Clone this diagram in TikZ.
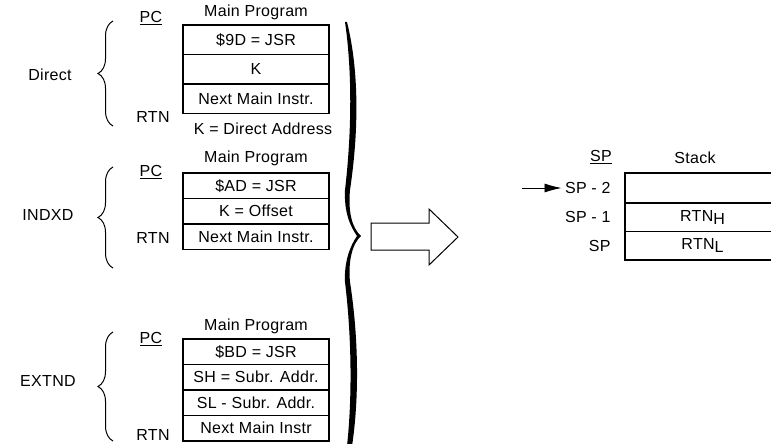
\documentclass[tikz,border=0pt]{standalone}
\usepackage{fontspec}
\setmainfont{Liberation Sans}
\setsansfont[LetterSpace=2]{Liberation Sans}
\usetikzlibrary{positioning,arrows.meta,decorations.pathreplacing}

\begin{document}
\begin{tikzpicture}[x=1pt,y=-1pt,font=\sffamily\fontsize{16}{18}\selectfont,
  cell/.style={draw,line width=1.2pt,minimum width=146pt,inner sep=0pt,outer sep=0pt},
  lbrace/.style={decorate,decoration={brace,amplitude=15pt},line width=1pt},
  srow/.style={minimum width=155pt,inner sep=0pt,outer sep=0pt}]
\useasboundingbox (0,0) rectangle (771,444);

% Direct
\node (d-head) at (256,12) {Main Program};
\foreach \X [count=\Y,remember=\Y as \LastY] in {\$9D = JSR,K,Next Main Instr.}
  {\ifnum\Y=1
  \node[cell,minimum height=29.5pt,anchor=north] (d-\Y) at (256,25) {\X};
  \else
  \node[cell,minimum height=29.5pt,below=0pt of d-\LastY] (d-\Y) {\X};
  \fi}
\node (d-pc) at (151,18) {\underline{PC}};
\node (d-rtn) at (153,117) {RTN};
\node (d-note) at (263,129) {K = Direct Address};
\node (d-mode) at (50,75) {Direct};
\draw[lbrace] (113,126) -- (113,21);

% INDXD
\node (i-head) at (256,158) {Main Program};
\foreach \X [count=\Y,remember=\Y as \LastY] in {\$AD = JSR,K = Offset,Next Main Instr.}
  {\ifnum\Y=1
  \node[cell,minimum height=25.5pt,anchor=north] (i-\Y) at (256,173) {\X};
  \else
  \node[cell,minimum height=25.5pt,below=0pt of i-\LastY] (i-\Y) {\X};
  \fi}
\node (i-pc) at (151,172) {\underline{PC}};
\node (i-rtn) at (153,238) {RTN};
\node (i-mode) at (48,215) {INDXD};
\draw[lbrace] (113,268) -- (113,167);

% EXTND
\node (e-head) at (256,326) {Main Program};
\foreach \X [count=\Y,remember=\Y as \LastY] in {\$BD = JSR,SH = Subr. Addr.,SL - Subr. Addr.,Next Main Instr}
  {\ifnum\Y=1
  \node[cell,minimum height=25.5pt,anchor=north] (e-\Y) at (256,339) {\X};
  \else
  \node[cell,minimum height=25.5pt,below=0pt of e-\LastY] (e-\Y) {\X};
  \fi}
\node (e-pc) at (151,339) {\underline{PC}};
\node (e-rtn) at (153,435) {RTN};
\node (e-mode) at (48,381) {EXTND};
\draw[lbrace] (113,441) -- (113,332);

% big brace
\fill (347,22) .. controls (359,70) and (359,130) .. (350,190)
  .. controls (348,212) and (352,228) .. (361,236)
  .. controls (352,244) and (348,262) .. (350,282)
  .. controls (359,340) and (359,400) .. (352,446)
  -- (347,446) .. controls (352,400) and (352,340) .. (345,282)
  .. controls (344,262) and (350,246) .. (357,236)
  .. controls (350,226) and (344,212) .. (345,190)
  .. controls (352,130) and (352,70) .. (345,22) -- cycle;

% block arrow
\draw[line width=1pt,line join=miter] (371,223) -- (429,223) -- (429,209) -- (458,237)
  -- (429,265) -- (429,250) -- (371,250) -- cycle;

% stack
\node (sp-head) at (601,157) {\underline{SP}};
\node (st-head) at (695,158) {Stack};
\node[srow,minimum height=30pt,anchor=north west] (st-2) at (625,173) {};
\node[srow,minimum height=28.5pt,below=0pt of st-2] (st-1) {RTN\raisebox{-3pt}{H}};
\node[srow,minimum height=28.5pt,below=0pt of st-1] (st-0) {RTN\raisebox{-3pt}{L}};
\draw[line width=1.3pt] (st-2.north east) -- (st-2.north west) -- (st-0.south west) -- (st-0.south east);
\draw[line width=1.2pt] (st-1.north west) -- (st-1.north east);
\draw[line width=1.2pt] (st-0.north west) -- (st-0.north east);
\node[left=11pt of st-2] (sp-2) {SP - 2};
\node[left=11pt of st-1] (sp-1) {SP - 1};
\node[left=11pt of st-0] (sp-0) {SP};
\coordinate (sp-in) at (522,188);
\draw[line width=0.8pt,-{Latex[length=17pt,width=9pt]}] (sp-in) -- (sp-2.west);
\end{tikzpicture}
\end{document}
